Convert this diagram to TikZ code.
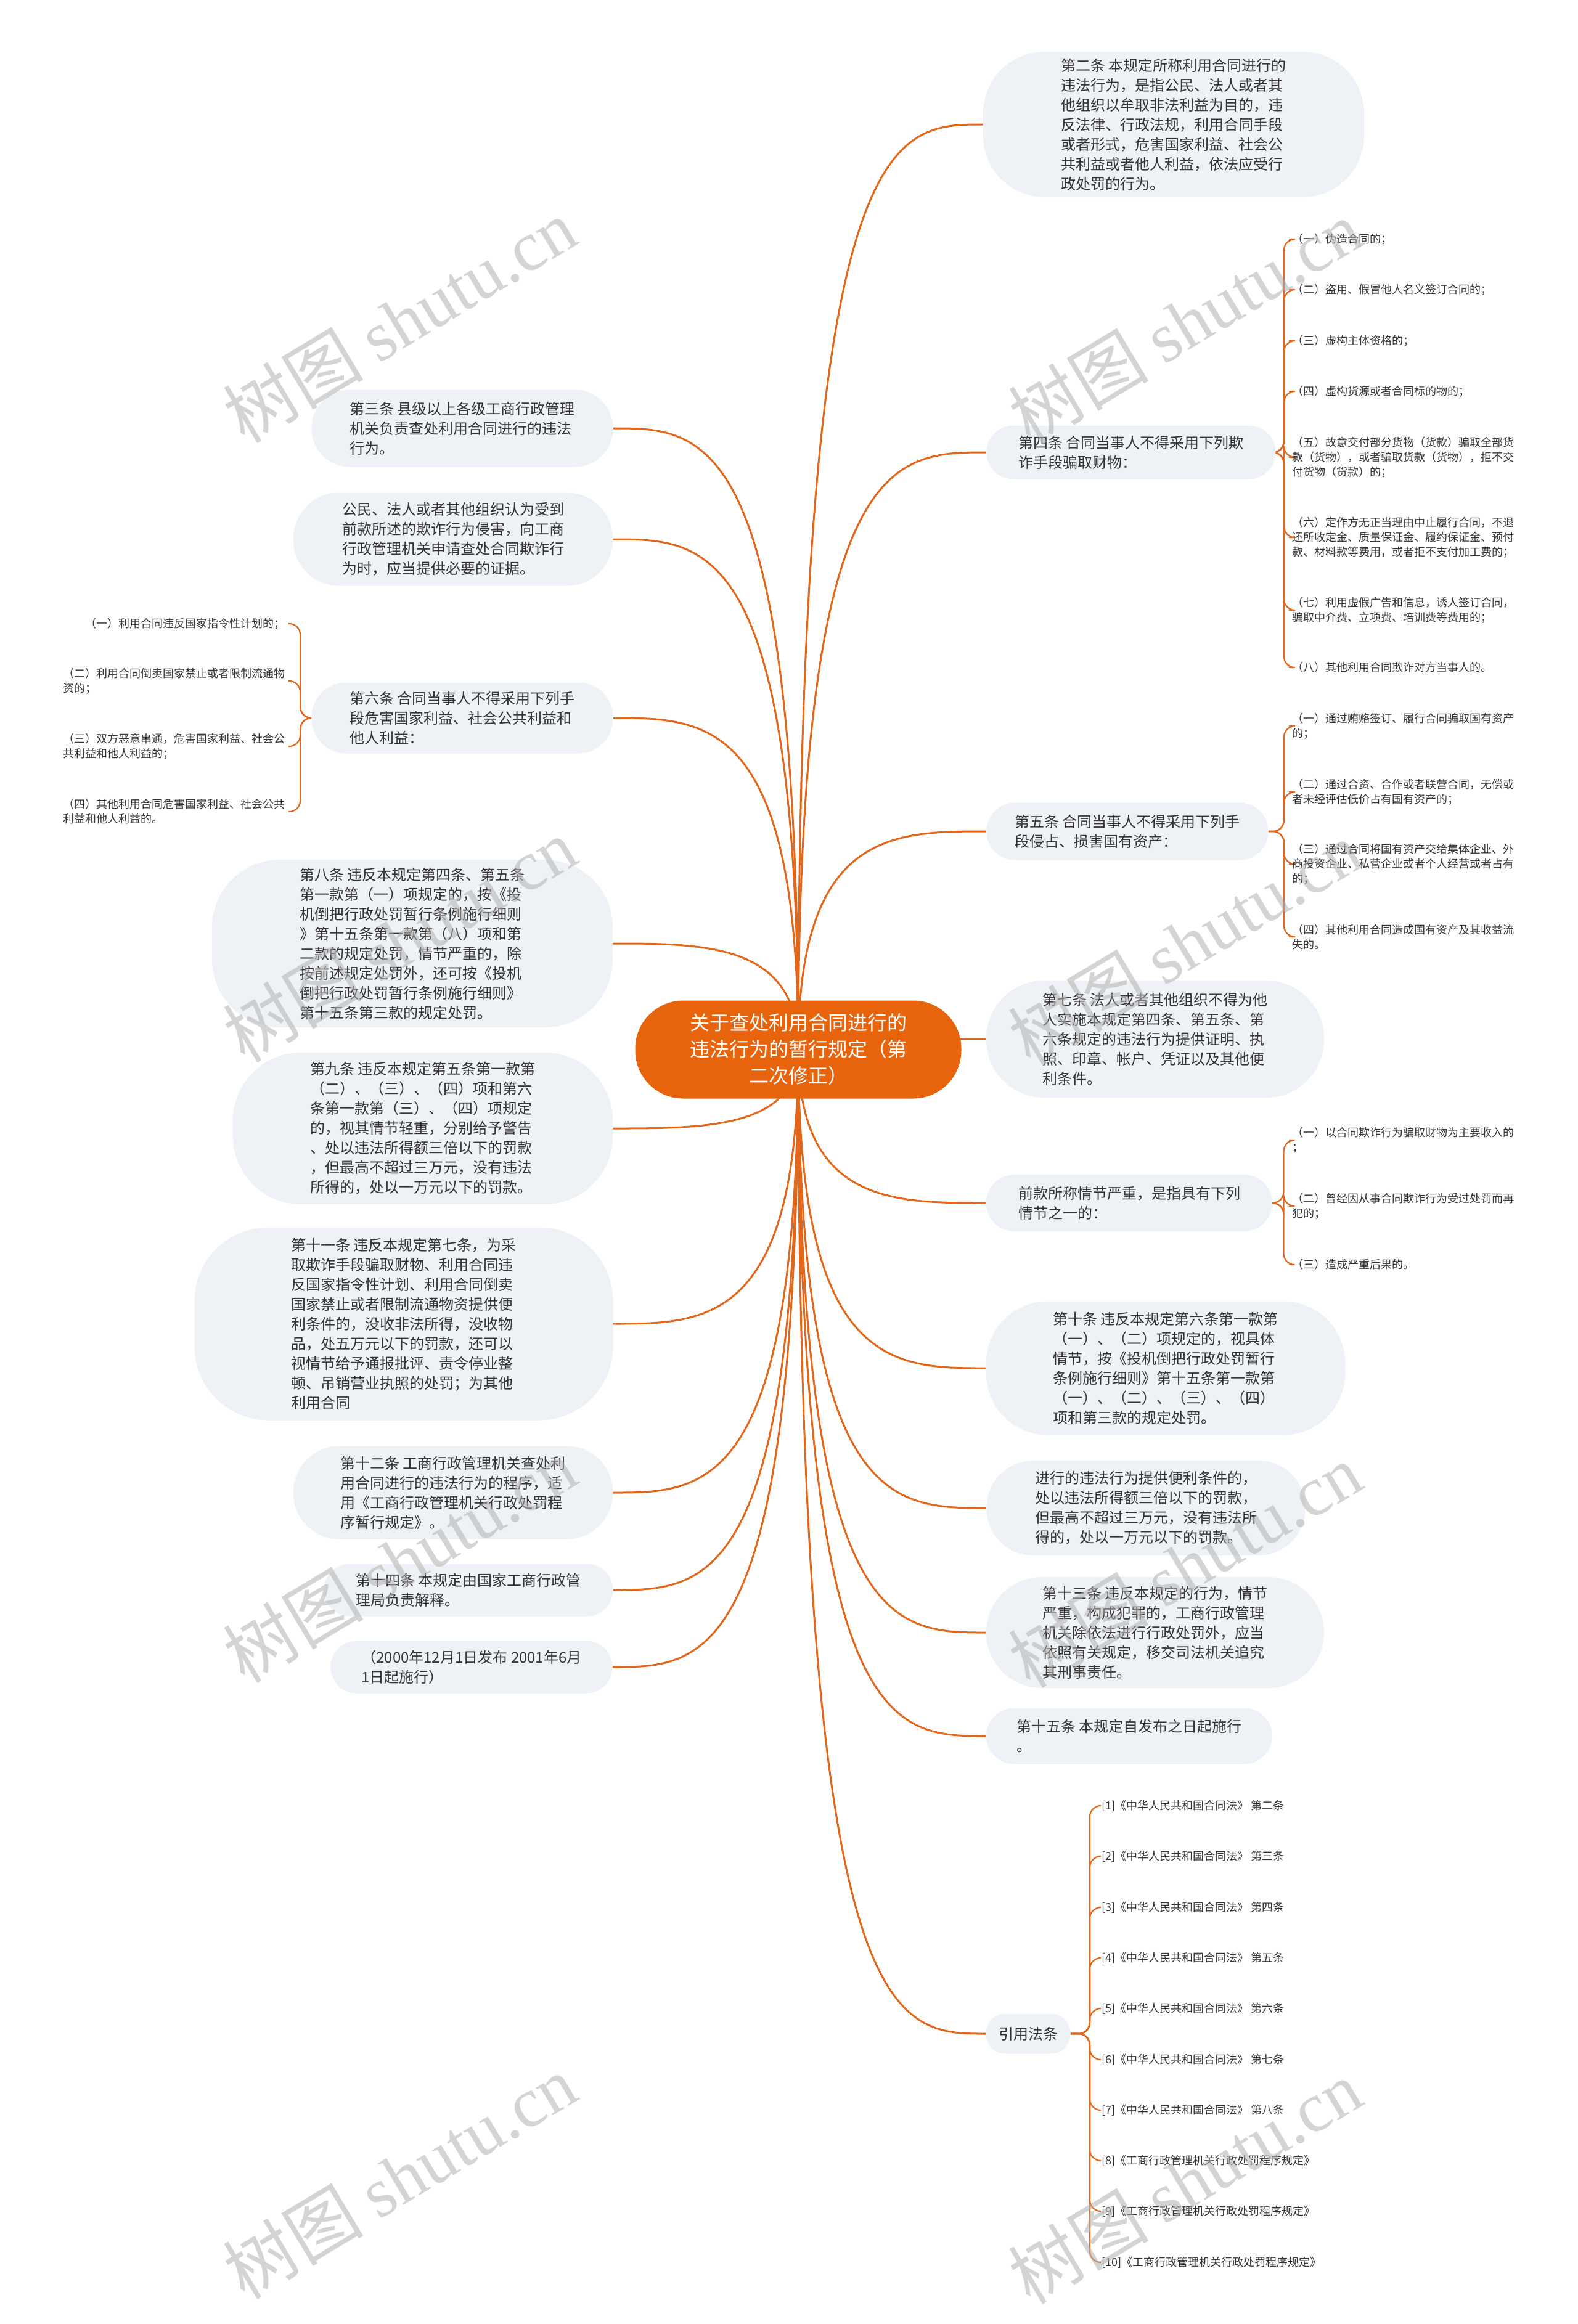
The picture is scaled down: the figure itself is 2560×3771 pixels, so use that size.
\documentclass[tikz,border=0pt]{standalone}
\usepackage{fontspec}
\setmainfont{Noto Sans CJK SC}
\newfontfamily\wmlat{Liberation Serif}
\usetikzlibrary{calc,backgrounds}
\definecolor{orn}{HTML}{E8640C}
\definecolor{lnk}{HTML}{E2671A}
\definecolor{boxf}{HTML}{EEF1F5}
\definecolor{txt}{HTML}{333333}
\tikzset{
 rbox/.style={fill=boxf, text=txt, align=left, font=\fontsize{12}{16}\selectfont, inner sep=4pt},
 subitem/.style={text=txt, align=left, font=\fontsize{9}{12}\selectfont, inner xsep=2.5pt, inner ysep=1pt},
 link/.style={draw=lnk, line width=1.5pt},
 sublink/.style={draw=lnk, line width=1.1pt, rounded corners=9pt},
 wm/.style={text=gray!60, text opacity=0.55, rotate=31, font=\fontsize{57}{57}\selectfont},
}
\newcommand\mlinkR[1]{\draw[link] (c.center) .. controls (c.center |- #1.west) and ($(c.center |- #1.west)!0.5!(#1.west)$) .. (#1.west);}
\newcommand\mlinkL[1]{\draw[link] (c.center) .. controls (c.center |- #1.east) and ($(c.center |- #1.east)!0.5!(#1.east)$) .. (#1.east);}
\begin{document}
\begin{tikzpicture}[x=0.5pt,y=-0.5pt]
\useasboundingbox (0,0) rectangle (2560,3771);

% center
\node[fill=orn, text=white, align=center, font=\fontsize{16}{21.5}\selectfont, rounded corners=39pt, minimum width=264.5pt, minimum height=79.5pt] (c) at (1295,1703) {关于查处利用合同进行的\\违法行为的暂行规定（第\\二次修正）};

% right nodes
\node[rbox, minimum width=309pt, minimum height=118pt, rounded corners=50pt] (n2) at (1904,202) {第二条 本规定所称利用合同进行的\\违法行为，是指公民、法人或者其\\他组织以牟取非法利益为目的，违\\反法律、行政法规，利用合同手段\\或者形式，危害国家利益、社会公\\共利益或者他人利益，依法应受行\\政处罚的行为。};
\node[rbox, minimum width=234.5pt, minimum height=43.5pt, rounded corners=21.7pt] (n4) at (1835,734) {第四条 合同当事人不得采用下列欺\\诈手段骗取财物：};
\node[rbox, minimum width=228.5pt, minimum height=46.5pt, rounded corners=23pt] (n5) at (1829,1349) {第五条 合同当事人不得采用下列手\\段侵占、损害国有资产：};
\node[rbox, minimum width=274pt, minimum height=95pt, rounded corners=47pt] (n7) at (1874,1686) {第七条 法人或者其他组织不得为他\\人实施本规定第四条、第五条、第\\六条规定的违法行为提供证明、执\\照、印章、帐户、凭证以及其他便\\利条件。};
\node[rbox, minimum width=232pt, minimum height=46pt, rounded corners=23pt] (nq) at (1832,1952) {前款所称情节严重，是指具有下列\\情节之一的：};
\node[rbox, minimum width=291pt, minimum height=108.5pt, rounded corners=50pt] (n10) at (1891,2220) {第十条 违反本规定第六条第一款第\\（一）、（二）项规定的，视具体\\情节，按《投机倒把行政处罚暂行\\条例施行细则》第十五条第一款第\\（一）、（二）、（三）、（四）\\项和第三款的规定处罚。};
\node[rbox, minimum width=258.5pt, minimum height=77pt, rounded corners=38pt] (nj) at (1859,2447) {进行的违法行为提供便利条件的，\\处以违法所得额三倍以下的罚款，\\但最高不超过三万元，没有违法所\\得的，处以一万元以下的罚款。};
\node[rbox, minimum width=274pt, minimum height=90pt, rounded corners=45pt] (n13) at (1874,2649) {第十三条 违反本规定的行为，情节\\严重，构成犯罪的，工商行政管理\\机关除依法进行行政处罚外，应当\\依照有关规定，移交司法机关追究\\其刑事责任。};
\node[rbox, minimum width=232pt, minimum height=45.5pt, rounded corners=22.7pt] (n15) at (1832,2817) {第十五条 本规定自发布之日起施行\\。};
\node[rbox, align=center, minimum width=68.5pt, minimum height=32.5pt, rounded corners=16pt] (nref) at (1668,3300) {引用法条};

% left nodes
\node[rbox, minimum width=244.5pt, minimum height=62.5pt, rounded corners=31pt] (n3) at (750,695) {第三条 县级以上各级工商行政管理\\机关负责查处利用合同进行的违法\\行为。};
\node[rbox, minimum width=259pt, minimum height=75.5pt, rounded corners=37pt] (nG) at (735,875) {公民、法人或者其他组织认为受到\\前款所述的欺诈行为侵害，向工商\\行政管理机关申请查处合同欺诈行\\为时，应当提供必要的证据。};
\node[rbox, minimum width=244.5pt, minimum height=57.5pt, rounded corners=28pt] (n6) at (750,1165) {第六条 合同当事人不得采用下列手\\段危害国家利益、社会公共利益和\\他人利益：};
\node[rbox, minimum width=325pt, minimum height=136pt, rounded corners=55pt] (n8) at (669,1531) {第八条 违反本规定第四条、第五条\\第一款第（一）项规定的，按《投\\机倒把行政处罚暂行条例施行细则\\》第十五条第一款第（八）项和第\\二款的规定处罚，情节严重的，除\\按前述规定处罚外，还可按《投机\\倒把行政处罚暂行条例施行细则》\\第十五条第三款的规定处罚。};
\node[rbox, minimum width=308pt, minimum height=123pt, rounded corners=55pt] (n9) at (686,1831) {第九条 违反本规定第五条第一款第\\（二）、（三）、（四）项和第六\\条第一款第（三）、（四）项规定\\的，视其情节轻重，分别给予警告\\、处以违法所得额三倍以下的罚款\\，但最高不超过三万元，没有违法\\所得的，处以一万元以下的罚款。};
\node[rbox, minimum width=339.5pt, minimum height=156.5pt, rounded corners=60pt] (n11) at (655,2148) {第十一条 违反本规定第七条，为采\\取欺诈手段骗取财物、利用合同违\\反国家指令性计划、利用合同倒卖\\国家禁止或者限制流通物资提供便\\利条件的，没收非法所得，没收物\\品，处五万元以下的罚款，还可以\\视情节给予通报批评、责令停业整\\顿、吊销营业执照的处罚；为其他\\利用合同};
\node[rbox, minimum width=259pt, minimum height=75.5pt, rounded corners=37pt] (n12) at (735,2422) {第十二条 工商行政管理机关查处利\\用合同进行的违法行为的程序，适\\用《工商行政管理机关行政处罚程\\序暂行规定》。};
\node[rbox, minimum width=234.5pt, minimum height=42.5pt, rounded corners=21pt] (n14) at (760,2580) {第十四条 本规定由国家工商行政管\\理局负责解释。};
\node[rbox, minimum width=228.5pt, minimum height=42.5pt, rounded corners=21pt] (n2000) at (765,2705) {（2000年12月1日发布 2001年6月\\1日起施行）};

% sub items of 第四条
\node[subitem, anchor=west] (s4a) at (2091,388) {（一）伪造合同的；};
\node[subitem, anchor=west] (s4b) at (2091,470) {（二）盗用、假冒他人名义签订合同的；};
\node[subitem, anchor=west] (s4c) at (2091,553) {（三）虚构主体资格的；};
\node[subitem, anchor=west] (s4d) at (2091,635) {（四）虚构货源或者合同标的物的；};
\node[subitem, anchor=west] (s4e) at (2091,742) {（五）故意交付部分货物（货款）骗取全部货\\款（货物），或者骗取货款（货物），拒不交\\付货物（货款）的；};
\node[subitem, anchor=west] (s4f) at (2091,872) {（六）定作方无正当理由中止履行合同，不退\\还所收定金、质量保证金、履约保证金、预付\\款、材料款等费用，或者拒不支付加工费的；};
\node[subitem, anchor=west] (s4g) at (2091,990) {（七）利用虚假广告和信息，诱人签订合同，\\骗取中介费、立项费、培训费等费用的；};
\node[subitem, anchor=west] (s4h) at (2091,1083) {（八）其他利用合同欺诈对方当事人的。};

% sub items of 第五条
\node[subitem, anchor=west] (s5a) at (2091,1178) {（一）通过贿赂签订、履行合同骗取国有资产\\的；};
\node[subitem, anchor=west] (s5b) at (2091,1285) {（二）通过合资、合作或者联营合同，无偿或\\者未经评估低价占有国有资产的；};
\node[subitem, anchor=west] (s5c) at (2091,1402) {（三）通过合同将国有资产交给集体企业、外\\商投资企业、私营企业或者个人经营或者占有\\的；};
\node[subitem, anchor=west] (s5d) at (2091,1520) {（四）其他利用合同造成国有资产及其收益流\\失的。};

% sub items of 前款
\node[subitem, anchor=west] (sqa) at (2091,1850) {（一）以合同欺诈行为骗取财物为主要收入的\\；};
\node[subitem, anchor=west] (sqb) at (2091,1957) {（二）曾经因从事合同欺诈行为受过处罚而再\\犯的；};
\node[subitem, anchor=west] (sqc) at (2091,2052) {（三）造成严重后果的。};

% sub items of 第六条
\node[subitem, anchor=east] (s6a) at (468,1012) {（一）利用合同违反国家指令性计划的；};
\node[subitem, anchor=east] (s6b) at (468,1105) {（二）利用合同倒卖国家禁止或者限制流通物\\资的；};
\node[subitem, anchor=east] (s6c) at (468,1211) {（三）双方恶意串通，危害国家利益、社会公\\共利益和他人利益的；};
\node[subitem, anchor=east] (s6d) at (468,1317) {（四）其他利用合同危害国家利益、社会公共\\利益和他人利益的。};

% references
\node[subitem, anchor=west] (r1) at (1782,2930) {[1]《中华人民共和国合同法》 第二条};
\node[subitem, anchor=west] (r2) at (1782,3012) {[2]《中华人民共和国合同法》 第三条};
\node[subitem, anchor=west] (r3) at (1782,3095) {[3]《中华人民共和国合同法》 第四条};
\node[subitem, anchor=west] (r4) at (1782,3177) {[4]《中华人民共和国合同法》 第五条};
\node[subitem, anchor=west] (r5) at (1782,3259) {[5]《中华人民共和国合同法》 第六条};
\node[subitem, anchor=west] (r6) at (1782,3342) {[6]《中华人民共和国合同法》 第七条};
\node[subitem, anchor=west] (r7) at (1782,3424) {[7]《中华人民共和国合同法》 第八条};
\node[subitem, anchor=west] (r8) at (1782,3506) {[8]《工商行政管理机关行政处罚程序规定》};
\node[subitem, anchor=west] (r9) at (1782,3588) {[9]《工商行政管理机关行政处罚程序规定》};
\node[subitem, anchor=west] (r10) at (1782,3671) {[10]《工商行政管理机关行政处罚程序规定》};

\coordinate (j4) at ($(n4.east)+(13,0)$);
\coordinate (j5) at ($(n5.east)+(25,0)$);
\coordinate (jq) at ($(nq.east)+(18,0)$);
\coordinate (j6) at ($(n6.west)+(-18,0)$);
\coordinate (jr) at ($(nref.east)+(31,0)$);

\begin{scope}[on background layer]
\fill[white] (0,0) rectangle (2560,3771);
\foreach \n in {n2,n4,n5,n7,nq,n10,nj,n13,n15,nref} {\mlinkR{\n}}
\foreach \n in {n3,nG,n6,n8,n9,n11,n12,n14,n2000} {\mlinkL{\n}}
\foreach \s in {s4a,s4b,s4c,s4d,s4e,s4f,s4g,s4h} {\draw[sublink] (n4.east) -- (j4) |- (\s.west);}
\foreach \s in {s5a,s5b,s5c,s5d} {\draw[sublink] (n5.east) -- (j5) |- (\s.west);}
\foreach \s in {sqa,sqb,sqc} {\draw[sublink] (nq.east) -- (jq) |- (\s.west);}
\foreach \s in {s6a,s6b,s6c,s6d} {\draw[sublink] (n6.west) -- (j6) |- (\s.east);}
\foreach \s in {r1,r2,r3,r4,r5,r6,r7,r8,r9,r10} {\draw[sublink] (nref.east) -- (jr) |- (\s.west);}
\end{scope}

% watermarks
\foreach \p [count=\i] in {(648,520),(1922,522),(648,1525),(1922,1530),(648,2532),(1922,2540),(648,3532),(1922,3540)} {
  \node[wm] (wm\i) at \p {树图 {\wmlat shutu.cn}};
}
\end{tikzpicture}
\end{document}
